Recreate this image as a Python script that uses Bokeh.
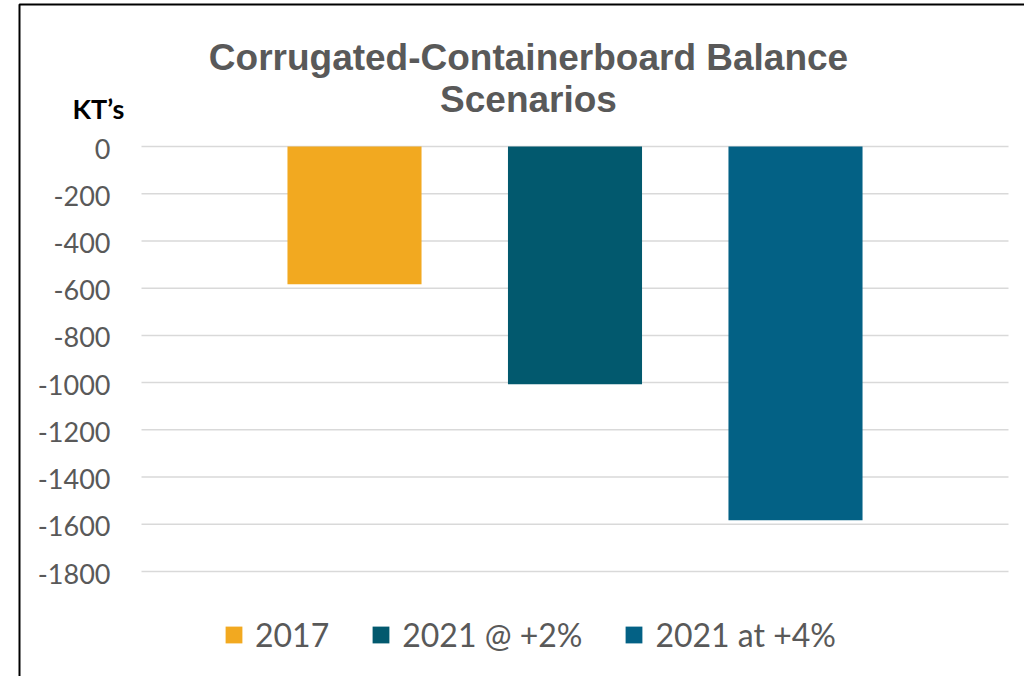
from bokeh.plotting import figure
from bokeh.models import (ColumnDataSource, Range1d, Legend, LegendItem, BoxAnnotation)
from bokeh.core.properties import value
from bokeh.embed import file_html
from bokeh.resources import INLINE

# ---- data ----
categories = ["2017", "2021 @ +2%", "2021 at +4%"]
balance = [-583, -1007, -1583]
colors = ["#F2A920", "#02596E", "#036185"]
tick_values = [0, -200, -400, -600, -800, -1000, -1200, -1400, -1600, -1800]
tick_labels = ["0", "-200", "-400", "-600", "-800", "-1000", "-1200", "-1400", "-1600", "-1800"]
title_lines = ["Corrugated-Containerboard Balance", "Scenarios"]
y_unit_label = "KT\u2019s"

# ---- layout (canvas pixels) ----
W, H = 1024, 676
FL, FR, FT, FB = 141, 1008, 146, 571    # plot-area edges
C0, STEP = 354, 220.5                    # first bar centre, spacing of bars
BAR_W = 0.608
Y_MIN, Y_MAX = tick_values[-1], tick_values[0]
YPX = (FB - FT) / (Y_MAX - Y_MIN)        # pixels per KT

def px_x(px):
    return (px - C0) / STEP
def px_y(py):
    return Y_MAX - (py - FT) / YPX

positions = list(range(len(categories)))
source = ColumnDataSource(dict(x=positions, cat=categories, val=balance, color=colors))

p = figure(width=W, height=H, output_backend="svg", toolbar_location=None,
           x_range=Range1d(px_x(0), px_x(W)), y_range=Range1d(px_y(H), px_y(0)),
           x_axis_location=None, y_axis_location=None,
           min_border=0)
p.outline_line_color = None
p.background_fill_color = "white"
p.border_fill_color = "white"
p.grid.visible = False

# gridlines
p.segment(x0=px_x(FL), x1=px_x(FR), y0=tick_values, y1=tick_values,
          line_color="#D9D9D9", line_width=1.5)

# bars
r = p.vbar(x="x", top=0, bottom="val", width=BAR_W, color="color", line_color=None, source=source)

# y tick labels
p.text(x=px_x(110), y=tick_values, text=tick_labels, text_align="right", text_baseline="middle",
       y_offset=2, text_font=value("Lato"), text_font_size="27px", text_color="#595959")

# title
title_baselines = [57, 99]
p.text(x=[px_x(528)] * len(title_lines), y=[px_y(b) for b in title_baselines], text=title_lines,
       text_align="center", text_baseline="alphabetic", text_font=value("Liberation Sans"),
       text_font_style="bold", text_font_size="37px", text_color="#595959")

# unit label
p.text(x=[px_x(98)], y=[px_y(108)], text=[y_unit_label], text_align="center",
       text_baseline="alphabetic", text_font=value("Lato"), text_font_style="bold",
       text_font_size="27px", text_color="black")

# chart border (left and top)
p.add_layout(BoxAnnotation(left=px_x(19), right=px_x(W + 50), top=px_y(4), bottom=px_y(H + 50),
                           fill_alpha=0, line_color="black", line_alpha=1.0, line_width=2,
                           level="overlay"))

legend = Legend(items=[LegendItem(label=c, renderers=[r], index=i) for i, c in enumerate(categories)],
                orientation="horizontal", location=(223, 22),
                glyph_width=21, glyph_height=21, label_standoff=11, spacing=41,
                padding=0, margin=0, border_line_color=None, background_fill_alpha=0,
                label_text_font="Lato", label_text_font_size="32px", label_text_color="#595959")
p.add_layout(legend)

open("out.html", "w").write(file_html(p, INLINE))
